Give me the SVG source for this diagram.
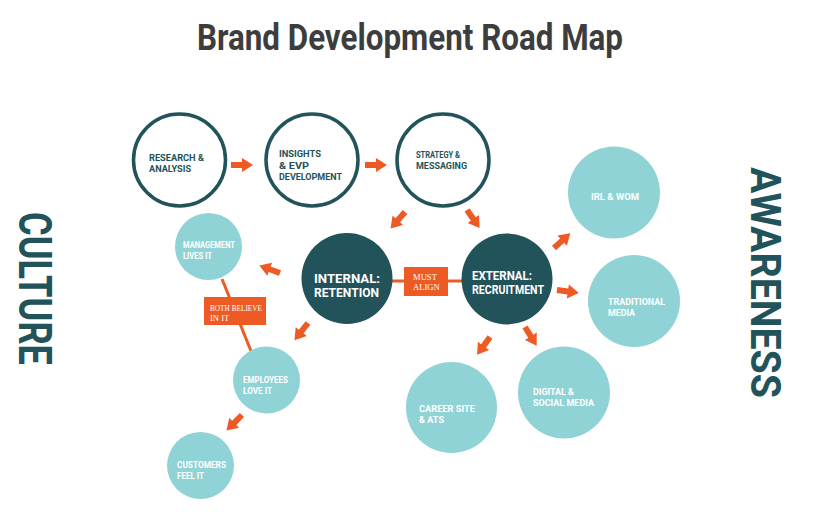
<svg xmlns="http://www.w3.org/2000/svg" width="820" height="526" viewBox="0 0 820 526">
<style>
.ring{fill:#fff;stroke:#22535a;stroke-width:3.5}
.dark{fill:#22535a}
.light{fill:#8fd3d6}
.lbl{font-family:Roboto,"Liberation Sans",sans-serif;font-weight:bold;font-size:9.4px}
.dk{fill:#22535a}
.wt{fill:#fff}
.big{font-family:Roboto,"Liberation Sans",sans-serif;font-weight:bold;font-size:12.4px;fill:#fff}
.ser{font-family:"Liberation Serif",serif;font-size:8.6px;fill:#fff}
.side{font-family:Roboto,"Liberation Sans",sans-serif;font-weight:bold;fill:#22535a}
.line{stroke:#ee5a24;stroke-width:3;fill:none}
.box{fill:#ee5a24}
.arr{fill:#ee5a24}
</style>
<defs>
<path id="arrow" d="M0,-3 L11,-3 L11,-7 L22,0 L11,7 L11,3 L0,3 Z"/>
</defs>
<rect width="820" height="526" fill="#fff"/>
<text x="410" y="50" text-anchor="middle" font-family="Roboto,'Liberation Sans',sans-serif" font-weight="bold" font-size="37" fill="#3d3d3d" textLength="426" lengthAdjust="spacingAndGlyphs">Brand Development Road Map</text>
<text class="side" font-size="46" transform="translate(19,288.5) rotate(90)" text-anchor="middle" textLength="153" lengthAdjust="spacingAndGlyphs">CULTURE</text>
<text class="side" font-size="42" transform="translate(751,282.5) rotate(90)" text-anchor="middle" textLength="231" lengthAdjust="spacingAndGlyphs">AWARENESS</text>

<g id="connectors">
<line class="line" x1="392" y1="281" x2="462" y2="281"/>
<line class="line" x1="222" y1="279" x2="251" y2="351"/>
<g class="arr">
<use href="#arrow" transform="translate(231,165)"/>
<use href="#arrow" transform="translate(365,165)"/>
<use href="#arrow" transform="translate(405,212) rotate(131)"/>
<use href="#arrow" transform="translate(467,210) rotate(55)"/>
<use href="#arrow" transform="translate(280,273) rotate(-160)"/>
<use href="#arrow" transform="translate(308,323) rotate(128)"/>
<use href="#arrow" transform="translate(242,415) rotate(135)"/>
<use href="#arrow" transform="translate(554,248) rotate(-42)"/>
<use href="#arrow" transform="translate(557,290) rotate(8)"/>
<use href="#arrow" transform="translate(490,337) rotate(126)"/>
<use href="#arrow" transform="translate(525,327) rotate(58)"/>
</g>
<g id="must-align">
<rect class="box" x="404" y="267" width="44" height="29"/>
<text class="ser" x="413" y="280">MUST</text>
<text class="ser" x="413" y="290">ALIGN</text>
</g>
<g id="both-believe">
<rect class="box" x="204" y="297" width="62" height="28"/>
<text class="ser" x="210" y="310.5" textLength="52" lengthAdjust="spacingAndGlyphs">BOTH BELIEVE</text>
<text class="ser" x="210" y="320.5">IN IT</text>
</g>
</g>

<g id="research">
<circle class="ring" cx="179.5" cy="160" r="46"/>
<text class="lbl dk" x="149" y="161" textLength="55" lengthAdjust="spacingAndGlyphs">RESEARCH &amp;</text>
<text class="lbl dk" x="149" y="172" textLength="42" lengthAdjust="spacingAndGlyphs">ANALYSIS</text>
</g>
<g id="insights">
<circle class="ring" cx="312" cy="160" r="46"/>
<text class="lbl dk" x="279" y="157" textLength="42" lengthAdjust="spacingAndGlyphs">INSIGHTS</text>
<text class="lbl dk" x="279" y="168.5" textLength="30" lengthAdjust="spacingAndGlyphs">&amp; EVP</text>
<text class="lbl dk" x="279" y="180" textLength="63" lengthAdjust="spacingAndGlyphs">DEVELOPMENT</text>
</g>
<g id="strategy">
<circle class="ring" cx="443" cy="160" r="46"/>
<text class="lbl dk" x="416" y="158" textLength="44" lengthAdjust="spacingAndGlyphs">STRATEGY &amp;</text>
<text class="lbl dk" x="416" y="169" textLength="51" lengthAdjust="spacingAndGlyphs">MESSAGING</text>
</g>
<g id="internal">
<circle class="dark" cx="347" cy="278.5" r="45.5"/>
<text class="big" x="314" y="282.5" textLength="66" lengthAdjust="spacingAndGlyphs">INTERNAL:</text>
<text class="big" x="314" y="297" textLength="65" lengthAdjust="spacingAndGlyphs">RETENTION</text>
</g>
<g id="external">
<circle class="dark" cx="507" cy="279" r="45.5"/>
<text class="big" font-size="10.4" x="472" y="280" textLength="60" lengthAdjust="spacingAndGlyphs">EXTERNAL:</text>
<text class="big" font-size="10.4" x="472" y="293.5" textLength="72" lengthAdjust="spacingAndGlyphs">RECRUITMENT</text>
</g>
<g id="management">
<circle class="light" cx="208.5" cy="246.5" r="33.5"/>
<text class="lbl wt" x="183" y="247.5" textLength="52" lengthAdjust="spacingAndGlyphs">MANAGEMENT</text>
<text class="lbl wt" x="183" y="258.5" textLength="29" lengthAdjust="spacingAndGlyphs">LIVES IT</text>
</g>
<g id="employees">
<circle class="light" cx="266.5" cy="380" r="33.5"/>
<text class="lbl wt" x="243" y="382.5" textLength="45" lengthAdjust="spacingAndGlyphs">EMPLOYEES</text>
<text class="lbl wt" x="243" y="393.5" textLength="29" lengthAdjust="spacingAndGlyphs">LOVE IT</text>
</g>
<g id="customers">
<circle class="light" cx="200.5" cy="465.5" r="33.5"/>
<text class="lbl wt" x="177" y="468" textLength="49" lengthAdjust="spacingAndGlyphs">CUSTOMERS</text>
<text class="lbl wt" x="177" y="479" textLength="27" lengthAdjust="spacingAndGlyphs">FEEL IT</text>
</g>
<g id="irl-wom">
<circle class="light" cx="614" cy="192.5" r="46"/>
<text class="lbl wt" x="591" y="200" textLength="48" lengthAdjust="spacingAndGlyphs">IRL &amp; WOM</text>
</g>
<g id="traditional">
<circle class="light" cx="634" cy="301" r="46"/>
<text class="lbl wt" x="608" y="305" textLength="57" lengthAdjust="spacingAndGlyphs">TRADITIONAL</text>
<text class="lbl wt" x="608" y="316" textLength="27" lengthAdjust="spacingAndGlyphs">MEDIA</text>
</g>
<g id="career">
<circle class="light" cx="451.5" cy="407.5" r="45.5"/>
<text class="lbl wt" x="419" y="411.5" textLength="56" lengthAdjust="spacingAndGlyphs">CAREER SITE</text>
<text class="lbl wt" x="419" y="422.5" textLength="25" lengthAdjust="spacingAndGlyphs">&amp; ATS</text>
</g>
<g id="digital">
<circle class="light" cx="564" cy="392.5" r="46"/>
<text class="lbl wt" x="533" y="395" textLength="41" lengthAdjust="spacingAndGlyphs">DIGITAL &amp;</text>
<text class="lbl wt" x="533" y="406" textLength="61" lengthAdjust="spacingAndGlyphs">SOCIAL MEDIA</text>
</g>
</svg>
